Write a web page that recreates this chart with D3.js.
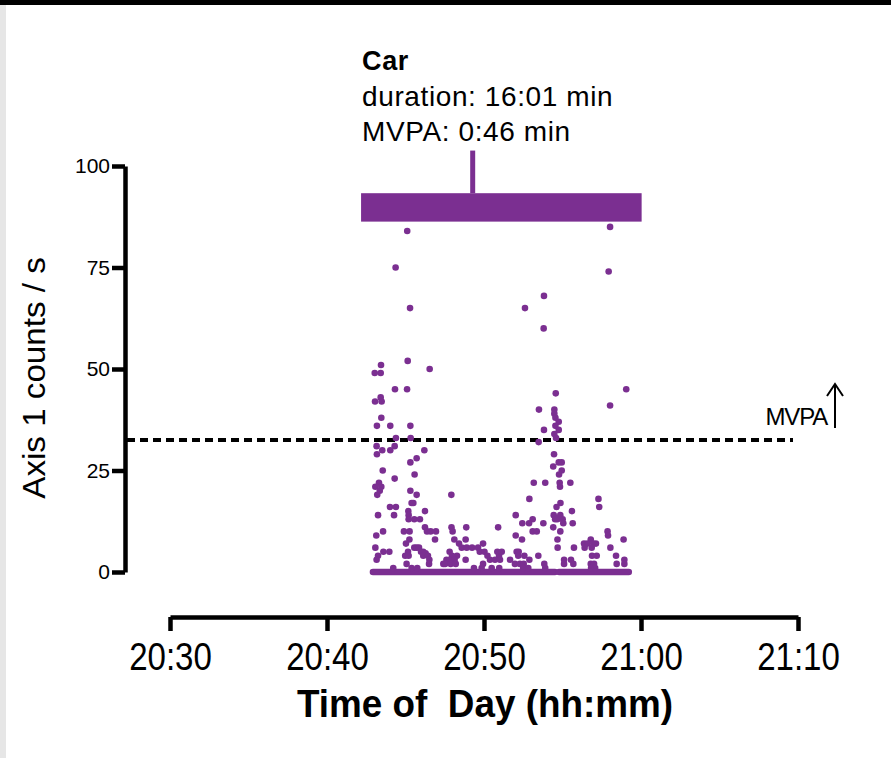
<!DOCTYPE html>
<html>
<head>
<meta charset="utf-8">
<script src="https://cdn.jsdelivr.net/npm/d3@7"></script>
<style>
  body { margin: 0; background: #fff; }
  svg { display: block; font-family: "Liberation Sans", Arial, sans-serif; }
</style>
</head>
<body>
<svg width="891" height="758"></svg>
<script>
// time values are minutes after 20:00, counts are Axis 1 counts per second
var pointMinutes = [
  45.11, 44.37, 45.29, 45.14, 43.44, 43.04, 43.42, 46.54, 44.33, 45.10, 43.42,
  58.03, 57.94, 53.82, 52.61, 53.80, 54.57, 59.06, 58.03,
  43.06, 43.48, 43.46, 43.18, 44.03, 45.31, 44.39, 45.33,
  43.16, 43.52, 44.03, 44.31, 43.18, 46.20,
  45.31, 45.71, 43.55, 45.58, 44.31, 43.31, 43.08, 43.46, 43.36, 43.20,
  45.31, 45.71, 47.92, 45.39, 45.50, 44.01, 44.39, 45.18, 46.24,
  43.25, 44.27, 45.20, 45.20, 45.56, 45.92,
  46.24, 46.37, 46.60, 46.94, 44.90, 45.26, 47.93, 48.00, 48.87, 50.90, 43.57, 43.14,
  45.25, 46.88, 48.11, 48.83, 45.03, 48.41,
  45.56, 45.71, 45.86, 43.08, 48.58, 48.90, 49.24, 49.62, 49.94,
  45.99, 46.13, 43.59, 43.97, 45.16, 46.28, 46.13, 47.81, 49.73, 50.03,
  43.25, 43.16, 44.98, 45.20, 46.43, 46.52, 48.28, 47.96, 50.22, 50.96, 50.85,
  47.61, 47.81, 48.13, 48.83, 50.38, 50.70,
  45.07, 44.22, 47.41, 47.52, 47.88, 48.20, 49.94,
  49.36, 49.85, 50.49, 50.97, 45.39, 45.75, 46.50,
  53.50, 54.48, 54.48, 54.55, 54.76, 54.55, 54.76, 54.48, 54.59, 53.82, 53.48,
  54.46, 54.76, 54.95, 54.41, 54.95, 54.78,
  53.17, 53.90, 54.82, 55.50, 54.84,
  52.89, 57.29, 57.34, 54.87, 54.62, 55.60, 52.02,
  54.44, 54.86, 54.67, 55.01, 54.53, 53.10, 52.44, 52.87, 53.78, 55.65, 55.05,
  54.41, 54.86, 53.10, 53.36, 57.87, 57.90, 52.02, 54.68, 52.42, 56.80, 58.89,
  56.37, 56.58, 57.13, 56.96, 54.69, 55.73, 56.41, 56.86, 58.05,
  51.13, 52.08, 52.21, 51.02, 51.66, 52.18, 52.57, 52.89, 53.46,
  56.88, 57.18, 58.41, 58.94, 58.94, 55.10, 55.54, 55.69, 55.10,
  51.97, 52.29, 52.53, 53.84, 53.90, 58.45, 56.80, 57.01, 56.82, 57.08, 52.50, 52.82
];
var pointCounts = [
  84, 75, 65, 52, 51, 49, 49, 50, 45, 45, 43,
  85, 74, 68, 65, 60, 44, 45, 41,
  42, 42, 38, 36, 36, 36, 33, 33,
  31, 30, 30, 31, 29, 30,
  27, 28, 25, 24, 23, 22, 21, 21, 20, 19,
  20, 19, 19, 17, 17, 16, 16, 15, 15,
  14, 14, 14, 13, 13, 13,
  11, 10, 10, 10, 10, 10, 11, 10, 11, 11, 10, 9,
  8, 8, 8, 8, 7, 7,
  6, 6, 6, 6, 6, 6, 6, 6, 7,
  5, 5, 5, 5, 5, 4.6, 4, 5, 5, 5,
  4, 3, 4, 4, 4, 3, 4, 4, 4, 4, 5,
  3, 3, 3, 3, 3, 3,
  2, 1, 2, 2, 2, 2, 2,
  1, 1, 1, 1, 1, 1, 2,
  40, 40, 39, 38, 37, 36, 35, 34, 33, 35, 32,
  29, 27, 27, 26, 25, 24,
  22, 22, 22, 22, 21,
  18, 18, 16, 17, 16, 15, 14,
  14, 14, 13, 13, 13, 13, 12, 12, 12, 12, 12,
  11, 10, 10, 10, 10, 9, 9, 8, 8, 8, 8,
  7, 7, 7, 7, 6, 6, 6, 6, 6,
  5, 5, 5, 3, 3, 4, 4, 3, 4,
  4, 4, 4, 3, 2, 3, 3, 2, 2,
  2, 2, 2, 2, 1, 2, 2, 2, 1, 1, 1, 1
];
// stretches of seconds with 0 counts (start, end in minutes after 20:00)
var zeroRunStart = [42.93, 54.78];
var zeroRunEnd = [54.52, 59.22];

var yTicks = [0, 25, 50, 75, 100];
var xTickMinutes = [30, 40, 50, 60, 70];
var mvpaThreshold = 32.5;

// the trip bar (Car)
var tripLabel = "Car";
var tripDuration = "duration: 16:01 min";
var tripMvpa = "MVPA: 0:46 min";
var barStartMin = 42.17, barEndMin = 60.04, stemMin = 49.28;
var barBottom = 86.3, barTop = 93.3, stemTop = 103.8;

var purple = "#7b2f91";
var base = new Date(2000, 0, 1, 20, 0, 0);
function toTime(m) {
  return new Date(base.getTime() + m * 60000);
}

var svg = d3.select("svg");

// black band at the top and grey strip on the left edge
svg.append("rect").attr("x", 0).attr("y", 0).attr("width", 891).attr("height", 5).attr("fill", "#000");
svg.append("rect").attr("x", 0).attr("y", 5).attr("width", 6).attr("height", 753).attr("fill", "#e6e6e6");

var x = d3.scaleTime().domain([toTime(30), toTime(70)]).range([170, 798]);
var y = d3.scaleLinear().domain([0, 100]).range([572, 166]);

// y axis
var yAxis = svg
  .append("g")
  .attr("transform", "translate(125,0)")
  .call(d3.axisLeft(y).tickValues(yTicks).tickSize(13).tickSizeOuter(0).tickPadding(2));
yAxis.select(".domain").attr("stroke-width", 4.5);
yAxis.selectAll(".tick line").attr("stroke-width", 4.5);
yAxis.selectAll(".tick text").attr("font-size", 21).attr("fill", "#000").style("font-family", "Liberation Sans, Arial, sans-serif");

// x axis
var xAxis = svg
  .append("g")
  .attr("transform", "translate(0,617)")
  .call(
    d3
      .axisBottom(x)
      .tickValues(xTickMinutes.map(toTime))
      .tickFormat(d3.timeFormat("%H:%M"))
      .tickSize(14)
      .tickSizeOuter(0)
      .tickPadding(12)
  );
xAxis.select(".domain").attr("stroke-width", 4.5);
xAxis.selectAll(".tick line").attr("stroke-width", 4.5);
xAxis
  .selectAll(".tick text")
  .attr("font-size", 38)
  .attr("fill", "#000")
  .attr("transform", "scale(0.87,1)")
  .style("font-family", "Liberation Sans, Arial, sans-serif");

// axis titles
svg
  .append("text")
  .attr("transform", "translate(485,717) scale(0.97,1)")
  .attr("text-anchor", "middle")
  .attr("font-size", 38)
  .attr("font-weight", "bold")
  .text("Time of \u00a0Day (hh:mm)");

svg
  .append("text")
  .attr("transform", "translate(45,378) rotate(-90) scale(1.07,1)")
  .attr("text-anchor", "middle")
  .attr("font-size", 31)
  .text("Axis 1 counts / s");

// MVPA threshold
var yThr = y(mvpaThreshold);
svg
  .append("line")
  .attr("x1", 127)
  .attr("x2", 793)
  .attr("y1", yThr)
  .attr("y2", yThr)
  .attr("stroke", "#000")
  .attr("stroke-width", 4)
  .attr("stroke-dasharray", "8,5");

svg
  .append("text")
  .attr("x", 827)
  .attr("y", yThr - 15)
  .attr("text-anchor", "end")
  .attr("font-size", 24)
  .attr("letter-spacing", -1.2)
  .text("MVPA");
svg
  .append("line")
  .attr("x1", 835).attr("x2", 835)
  .attr("y1", yThr - 12).attr("y2", yThr - 56)
  .attr("stroke", "#000").attr("stroke-width", 2);
svg
  .append("polyline")
  .attr("points", [[827, yThr - 44], [835, yThr - 56], [843, yThr - 44]].join(" "))
  .attr("fill", "none").attr("stroke", "#000").attr("stroke-width", 2);

// zero-count baseline
svg
  .selectAll(".zero")
  .data(zeroRunStart)
  .enter()
  .append("line")
  .attr("class", "zero")
  .attr("x1", (d) => x(toTime(d)))
  .attr("x2", (d, i) => x(toTime(zeroRunEnd[i])))
  .attr("y1", y(0))
  .attr("y2", y(0))
  .attr("stroke", purple)
  .attr("stroke-width", 6.6)
  .attr("stroke-linecap", "round");

// points
svg
  .selectAll(".pt")
  .data(pointMinutes)
  .enter()
  .append("circle")
  .attr("class", "pt")
  .attr("cx", (d) => x(toTime(d)))
  .attr("cy", (d, i) => y(pointCounts[i]))
  .attr("r", 3.3)
  .attr("fill", purple);

// trip bar with stem
svg
  .append("rect")
  .attr("x", x(toTime(barStartMin)))
  .attr("y", y(barTop))
  .attr("width", x(toTime(barEndMin)) - x(toTime(barStartMin)))
  .attr("height", y(barBottom) - y(barTop))
  .attr("fill", purple);
svg
  .append("line")
  .attr("x1", x(toTime(stemMin)))
  .attr("x2", x(toTime(stemMin)))
  .attr("y1", y(barTop))
  .attr("y2", y(stemTop))
  .attr("stroke", purple)
  .attr("stroke-width", 5);

// trip annotation
var tx = x(toTime(barStartMin)) + 1;
svg.append("text").attr("x", tx).attr("y", 70).attr("font-size", 27).attr("font-weight", "bold").attr("letter-spacing", 0.6).text(tripLabel);
svg.append("text").attr("x", tx).attr("y", 106).attr("font-size", 28).attr("letter-spacing", 0.6).text(tripDuration);
svg.append("text").attr("x", tx).attr("y", 141).attr("font-size", 28).attr("letter-spacing", 0.6).text(tripMvpa);
</script>
</body>
</html>
